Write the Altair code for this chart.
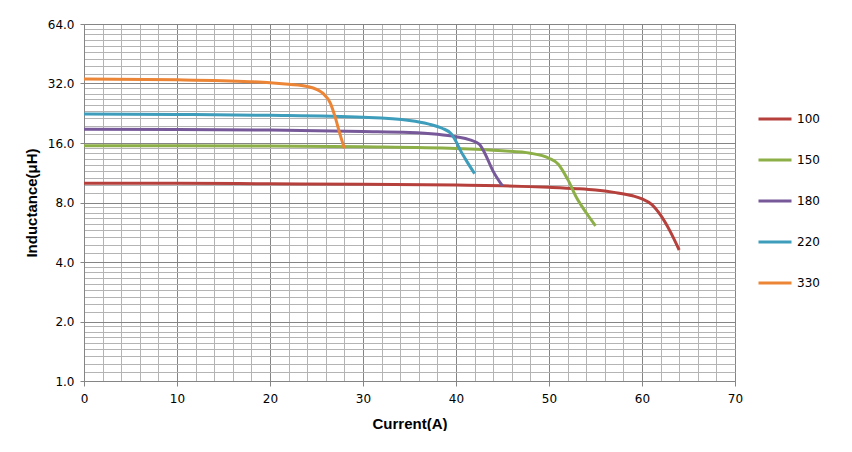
import altair as alt
import pandas as pd

series = ["100", "150", "180", "220", "330"]
colors = ["#B5403C", "#8DAF47", "#77599A", "#3D9DBB", "#EC8536"]

cur_100 = [0, 10, 20, 30, 40, 45, 50, 53, 55, 57, 59, 60, 61, 62, 63, 64]
ind_100 = [10.0, 10.0, 9.95, 9.9, 9.8, 9.72, 9.55, 9.4, 9.25, 9.0, 8.65, 8.35, 7.85, 6.9, 5.75, 4.6]

cur_150 = [0, 10, 20, 30, 40, 45, 48, 50, 51, 52, 53, 54, 55]
ind_150 = [15.5, 15.5, 15.45, 15.3, 15.0, 14.6, 14.2, 13.4, 12.5, 10.5, 8.4, 7.1, 6.1]

cur_180 = [0, 10, 20, 30, 35, 38, 40, 41.5, 42.5, 43, 44, 45]
ind_180 = [18.8, 18.75, 18.6, 18.3, 18.1, 17.7, 17.2, 16.6, 15.8, 14.5, 11.5, 9.7]

cur_220 = [0, 10, 20, 30, 35, 37, 38.5, 39.5, 40, 40.5, 41, 42]
ind_220 = [22.4, 22.3, 22.1, 21.6, 20.8, 20.0, 19.0, 17.8, 16.3, 14.6, 13.3, 11.2]

cur_330 = [0, 10, 17.8, 20, 22, 24, 25, 25.7, 26.5, 27, 27.5, 28]
ind_330 = [33.7, 33.4, 32.7, 32.3, 31.7, 30.9, 29.9, 28.5, 25.4, 21.7, 17.9, 15.0]

x_major = [0, 10, 20, 30, 40, 50, 60, 70]
y_major = [1, 2, 4, 8, 16, 32, 64]

rows = []
for name, xs, ys in zip(series,
                        [cur_100, cur_150, cur_180, cur_220, cur_330],
                        [ind_100, ind_150, ind_180, ind_220, ind_330]):
    for x, y in zip(xs, ys):
        rows.append({"series": name, "current": x, "ind": y})
df = pd.DataFrame(rows)

x_all = list(range(0, 71, 2))
y_all = [b * (1 + k / 9) for b in y_major[:-1] for k in range(0, 9)] + [64]

x_major_test = "datum.value % 10 === 0"
y_major_test = "abs(log(datum.value)/log(2) - round(log(datum.value)/log(2))) < 1e-6"

xscale = alt.Scale(domain=[0, 70], nice=False, zero=False)
yscale = alt.Scale(type="log", base=2, domain=[1, 64], nice=False)

lines = alt.Chart(df).mark_line(strokeWidth=3, interpolate="monotone").encode(
    x=alt.X("current:Q", scale=xscale, title="Current(A)",
            axis=alt.Axis(values=x_all, grid=True,
                          gridColor={"condition": {"test": x_major_test, "value": "#858585"}, "value": "#B4B4B4"},
                          tickOpacity={"condition": {"test": x_major_test, "value": 1}, "value": 0},
                          labelExpr=f"({x_major_test}) ? datum.label : ''",
                          domainColor="#858585", tickColor="#858585", tickSize=5,
                          labelFont="DejaVu Sans", labelFontSize=12, labelColor="#000000",
                          labelPadding=7, labelOverlap=False, labelFlush=False,
                          titleFont="Liberation Sans", titleFontSize=15,
                          titleFontWeight="bold", titleColor="#000000", titlePadding=12)),
    y=alt.Y("ind:Q", scale=yscale, title="Inductance(μH)",
            axis=alt.Axis(values=y_all, format=".1f", grid=True,
                          gridColor={"condition": {"test": y_major_test, "value": "#858585"}, "value": "#B4B4B4"},
                          tickOpacity={"condition": {"test": y_major_test, "value": 1}, "value": 0},
                          labelExpr=f"({y_major_test}) ? datum.label : ''",
                          domainColor="#858585", tickColor="#858585", tickSize=4,
                          labelFont="DejaVu Sans", labelFontSize=12, labelColor="#000000",
                          labelPadding=6, labelOverlap=False, labelFlush=False,
                          titleFont="Liberation Sans", titleFontSize=15,
                          titleFontWeight="bold", titleColor="#000000", titlePadding=8)),
    color=alt.Color("series:N", scale=alt.Scale(domain=series, range=colors),
                    legend=alt.Legend(title=None, orient="none", legendX=673, legendY=77,
                                      symbolType="stroke", symbolSize=1089,
                                      symbolStrokeWidth=3, labelFont="DejaVu Sans",
                                      labelFontSize=12, labelColor="#000000",
                                      labelOffset=4, rowPadding=17)),
)

chart = lines.properties(
    width=651, height=357,
    padding={"left": 76, "top": 16, "right": 100, "bottom": 50},
    autosize=alt.AutoSizeParams(type="none"),
).configure_view(stroke=None)

chart.save("out.html", embed_options={"renderer": "svg", "actions": False})
